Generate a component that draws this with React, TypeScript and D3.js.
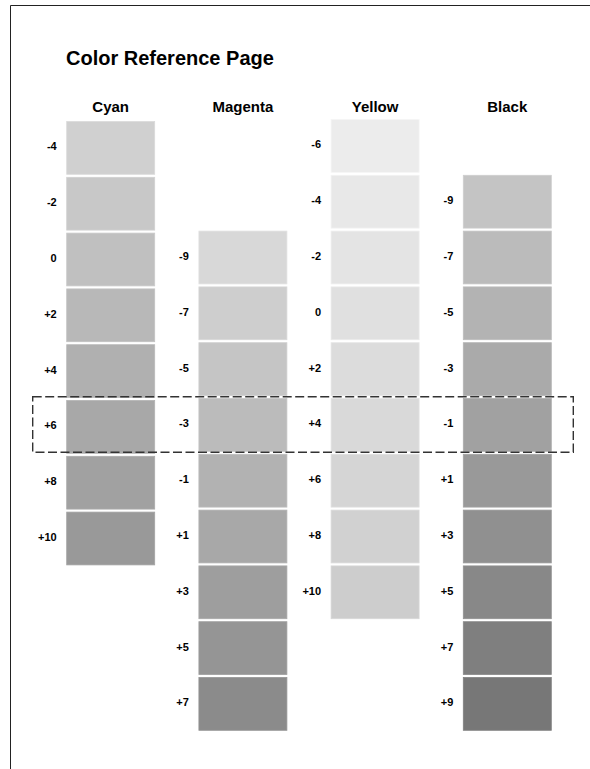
import React from "react";
import * as d3 from "d3";

const columns = ["Cyan", "Magenta", "Yellow", "Black"];

const cyanLabels = ["-4", "-2", "0", "+2", "+4", "+6", "+8", "+10"];
const cyanGrays = [208, 200, 192, 184, 176, 168, 161, 153];

const magentaLabels = ["-9", "-7", "-5", "-3", "-1", "+1", "+3", "+5", "+7"];
const magentaGrays = [216, 206, 197, 187, 178, 168, 158, 149, 139];

const yellowLabels = ["-6", "-4", "-2", "0", "+2", "+4", "+6", "+8", "+10"];
const yellowGrays = [236, 232, 228, 224, 220, 217, 213, 209, 205];

const blackLabels = ["-9", "-7", "-5", "-3", "-1", "+1", "+3", "+5", "+7", "+9"];
const blackGrays = [196, 187, 179, 170, 161, 153, 144, 136, 127, 119];

// starting row of each column in the shared row grid
const startRows = [0, 2, 0, 1];

const title = "Color Reference Page";

const W = 590;
const H = 769;
const FONT = "'Liberation Sans', Arial, Helvetica, sans-serif";

export default function App() {
  const series = [
    { labels: cyanLabels, grays: cyanGrays },
    { labels: magentaLabels, grays: magentaGrays },
    { labels: yellowLabels, grays: yellowGrays },
    { labels: blackLabels, grays: blackGrays },
  ];

  const x = d3.scaleLinear().domain([0, 4]).range([66.7, 66.7 + 132.2 * 4]);
  const swW = 88;

  const rowCount = 11;
  const y = d3
    .scaleLinear()
    .domain([0, rowCount])
    .range([119.5, 119.5 + 55.8 * rowCount]);
  const swH = 52.8;
  const nudge = [2, 0, 0, 0];

  const gray = (g: number) => d3.rgb(g, g, g).formatHex();

  return (
    <svg
      width={W}
      height={H}
      style={{ position: "absolute", left: 0, top: 0, display: "block" }}
      fontFamily={FONT}
    >
      <rect x={0} y={0} width={W} height={H} fill="#fff" />
      <path d={`M10.5,${H} V5.5 H${W}`} fill="none" stroke="#222" strokeWidth={1} />
      <text x={66} y={65} fontSize={20} fontWeight="bold" fill="#000">
        {title}
      </text>
      {columns.map((c, ci) => {
        const left = x(ci);
        const s = series[ci];
        return (
          <g key={c}>
            <text
              x={left + swW / 2}
              y={112}
              fontSize={15}
              fontWeight="bold"
              textAnchor="middle"
              fill="#000"
            >
              {c}
            </text>
            {s.labels.map((lab, i) => {
              const top = y(startRows[ci] + i) + nudge[ci];
              return (
                <g key={lab}>
                  <rect
                    x={left}
                    y={top}
                    width={swW}
                    height={swH}
                    fill={gray(s.grays[i])}
                    stroke={gray(Math.min(255, s.grays[i] + 10))}
                    strokeWidth={0.8}
                  />
                  <text
                    x={left - 10}
                    y={top + swH / 2 + 2.5}
                    fontSize={11}
                    fontWeight="bold"
                    textAnchor="end"
                    fill="#000"
                  >
                    {lab}
                  </text>
                </g>
              );
            })}
          </g>
        );
      })}
      <rect
        x={32.7}
        y={396.7}
        width={573.3 - 32.7}
        height={452.3 - 396.7}
        fill="none"
        stroke="#333"
        strokeWidth={1.4}
        strokeDasharray="9,3.5"
      />
    </svg>
  );
}
